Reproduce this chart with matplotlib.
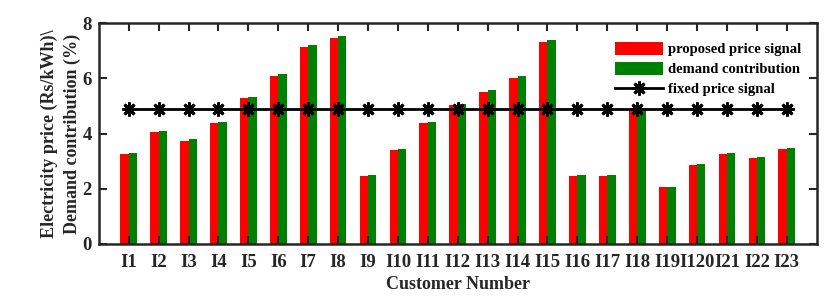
import matplotlib
matplotlib.use("Agg")
import matplotlib.pyplot as plt
import numpy as np

categories = ["I1", "I2", "I3", "I4", "I5", "I6", "I7", "I8", "I9", "I10", "I11", "I12",
              "I13", "I14", "I15", "I16", "I17", "I18", "I19", "I120", "I21", "I22", "I23"]
proposed_price = [3.26, 4.05, 3.74, 4.39, 5.27, 6.08, 7.12, 7.45, 2.45, 3.42, 4.39, 5.03,
                  5.51, 6.00, 7.30, 2.46, 2.46, 4.90, 2.05, 2.87, 3.27, 3.10, 3.43]
demand_contribution = [3.29, 4.10, 3.79, 4.43, 5.33, 6.14, 7.20, 7.53, 2.48, 3.45, 4.43, 5.08,
                       5.59, 6.07, 7.37, 2.48, 2.48, 4.90, 2.07, 2.91, 3.31, 3.14, 3.46]
fixed_price = [4.90] * 23

plt.rcParams['font.family'] = ['Liberation Serif', 'DejaVu Serif']
plt.rcParams['font.weight'] = 'bold'
txt = '#262626'

fig = plt.figure(figsize=(8.3, 3.0), dpi=100)
ax = fig.add_axes([0.119, 0.187, 0.865, 0.736])

x = np.arange(1, len(categories) + 1)
w = 0.28
b1 = ax.bar(x - w / 2, proposed_price, width=w, color='#FF0000', label='proposed price signal', zorder=1)
b2 = ax.bar(x + w / 2, demand_contribution, width=w, color='#008000', label='demand contribution', zorder=1)
l1, = ax.plot(x, fixed_price, color='black', lw=2, marker=(8, 2, 0), markersize=10,
              markeredgewidth=2, label='fixed price signal', zorder=3)

ax.set_xlim(0, 24)
ax.set_ylim(0, 8)
ax.set_xticks(x)
ax.set_xticklabels(categories)
ax.set_yticks([0, 2, 4, 6, 8])
ax.tick_params(direction='in', top=True, right=True, length=6, width=1.5,
               labelsize=13.5, colors=txt, labelcolor=txt)
ax.tick_params(axis='x', pad=7)
ax.tick_params(axis='y', pad=5)
for lab in ax.get_xticklabels() + ax.get_yticklabels():
    lab.set_fontweight('bold')
for s in ax.spines.values():
    s.set_linewidth(1.8)
    s.set_color(txt)

ax.set_ylabel('Electricity price (Rs/kWh)\\\nDemand contribution (%)', fontsize=13,
              fontweight='bold', color=txt, labelpad=1, linespacing=1.45)
ax.set_xlabel('Customer Number', fontsize=13, fontweight='bold', color=txt, labelpad=4)

leg = ax.legend(handles=[b1, b2, l1], loc='upper right', bbox_to_anchor=(0.99, 0.955), frameon=False,
                fontsize=10.5, handlelength=3.3, handleheight=1.0, labelspacing=0.38,
                handletextpad=0.3, borderaxespad=0.2)
for t in leg.get_texts():
    t.set_fontweight('bold')
    t.set_color('black')

fig.savefig('out.png', dpi=100)
